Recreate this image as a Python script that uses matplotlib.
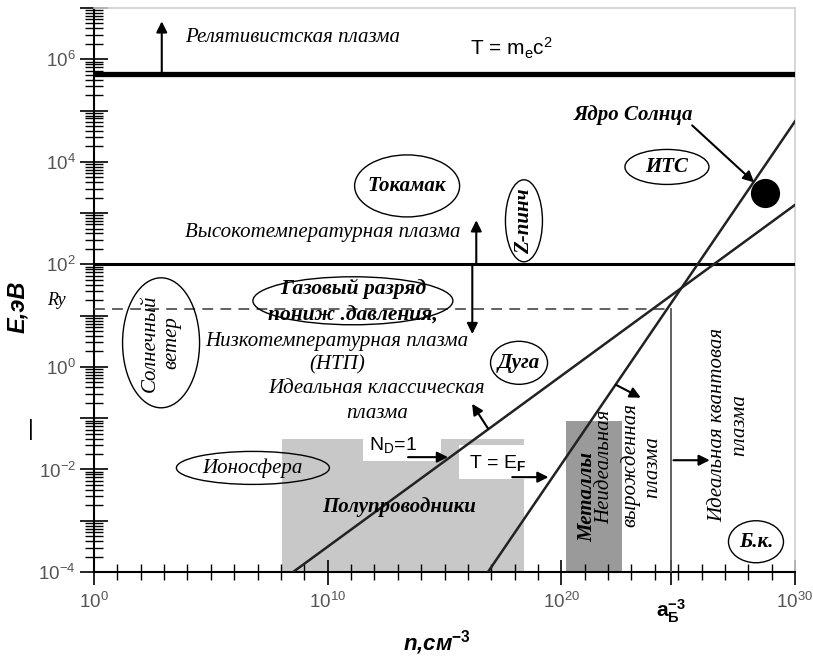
import numpy as np
import matplotlib
matplotlib.use('Agg')
import matplotlib.pyplot as plt
from matplotlib.patches import Ellipse, Rectangle
from matplotlib.transforms import ScaledTranslation
from matplotlib.ticker import FixedLocator, LogLocator, FuncFormatter, NullFormatter

plt.rcParams['font.family'] = ['Liberation Sans', 'DejaVu Sans']
plt.rcParams['mathtext.fontset'] = 'custom'
plt.rcParams['mathtext.rm'] = 'Liberation Sans'
plt.rcParams['mathtext.it'] = 'Liberation Sans:italic'
plt.rcParams['mathtext.bf'] = 'Liberation Sans:bold'

# ---------------- data ----------------
x_limits = [1e0, 1e30]
y_limits = [1e-4, 1e7]
E_rel = 5.1e5          # T = m_e c^2, eV
E_high = 1e2           # high / low temperature boundary, eV
E_Ry = 13.6            # Rydberg, eV
n_bohr = 10 ** 24.7    # a_B^-3, cm^-3

nd1_n = [10 ** 8.52, 1e30]     # N_D = 1 line
nd1_E = [1e-4, 10 ** 3.16]
tef_n = [10 ** 16.86, 1e30]    # T = E_F line
tef_E = [1e-4, 10 ** 4.79]

semi_n = [10 ** 8.03, 10 ** 18.4]   # semiconductors region
semi_E = [1e-4, 10 ** -1.41]
metal_n = [10 ** 20.2, 10 ** 22.6]  # metals region
metal_E = [1e-4, 10 ** -1.05]

sun_n = [10 ** 28.72]   # solar core
sun_E = [10 ** 3.39]

x_ticks = [1e0, 1e10, 1e20, n_bohr, 1e30]
x_ticklabels = [r'$10^{0}$', r'$10^{10}$', r'$10^{20}$', '', r'$10^{30}$']
y_major = [10.0 ** k for k in range(-4, 8)]
y_labeled = [-4, -2, 0, 2, 4, 6]

# ---------------- figure ----------------
fig = plt.figure(figsize=(8.13, 6.57), dpi=100)
ax = fig.add_axes([94 / 813, 1 - 572 / 657, 701 / 813, 564 / 657])
ax.set_xscale('log')
ax.set_yscale('log')

L = lambda v: 10.0 ** v

# regions
ax.add_patch(Rectangle((semi_n[0], semi_E[0]), semi_n[1] - semi_n[0], semi_E[1] - semi_E[0],
                       facecolor='#c8c8c8', edgecolor='none', zorder=1))
ax.add_patch(Rectangle((metal_n[0], metal_E[0]), metal_n[1] - metal_n[0], metal_E[1] - metal_E[0],
                       facecolor='#9a9a9a', edgecolor='none', zorder=1))
# white label boxes
ax.add_patch(Rectangle((L(11.51), L(-1.83)), L(14.85) - L(11.51), L(-1.37) - L(-1.83),
                       facecolor='white', edgecolor='none', zorder=2))
ax.add_patch(Rectangle((L(15.62), L(-2.18)), L(18.4) - L(15.62), L(-1.52) - L(-2.18),
                       facecolor='white', edgecolor='none', zorder=2))

# boundary lines
ax.plot(x_limits, [E_rel, E_rel], color='black', lw=3.8, zorder=4, solid_capstyle='butt')
ax.plot(x_limits, [E_high, E_high], color='black', lw=2.2, zorder=4, solid_capstyle='butt')
ax.plot([x_limits[0], n_bohr], [E_Ry, E_Ry], color='#555555', lw=1.3, ls=(0, (6, 4)), zorder=3)
ax.plot([n_bohr, n_bohr], [y_limits[0], E_Ry], color='#555555', lw=1.3, zorder=3)
ax.plot(nd1_n, nd1_E, color='#222222', lw=1.8, zorder=4)
ax.plot(tef_n, tef_E, color='#222222', lw=1.8, zorder=4)
ax.scatter(sun_n, sun_E, s=400, color='black', zorder=5)

# arrows (log n, log E)
arrows = [
    ((2.9, 5.71), (2.9, 6.74)),
    ((16.36, 2.0), (16.36, 2.86)),
    ((16.19, 2.0), (16.19, 0.64)),
    ((16.86, -1.2), (16.18, -0.72)),
    ((22.34, -0.35), (23.4, -0.6)),
    ((13.44, -1.76), (15.15, -1.76)),
    ((17.9, -2.15), (19.45, -2.15)),
    ((24.8, -1.82), (26.35, -1.82)),
    ((25.6, 4.71), (28.25, 3.6)),
]
for (x0, y0), (x1, y1) in arrows:
    ax.annotate('', xy=(L(x1), L(y1)), xytext=(L(x0), L(y0)),
                arrowprops=dict(arrowstyle='-|>', color='black', lw=1.5,
                                mutation_scale=16, shrinkA=0, shrinkB=0),
                zorder=6)

# ellipses (center in log data, size in px)
ellipses = [
    (13.4, 3.53, 105, 62),
    (18.4, 2.85, 37, 82),
    (24.52, 3.9, 84, 35),
    (11.08, 1.29, 200, 48),
    (2.87, 0.47, 77, 130),
    (18.19, 0.08, 57, 43),
    (6.8, -1.97, 153, 33),
    (28.33, -3.41, 55, 42),
]
for cx, cy, w, h in ellipses:
    tr = fig.dpi_scale_trans + ScaledTranslation(L(cx), L(cy), ax.transData)
    e = Ellipse((0, 0), w / 100, h / 100, transform=tr, fill=False,
                edgecolor='black', lw=1.0, zorder=6)
    ax.add_artist(e)

serif = ['Liberation Serif', 'DejaVu Serif']
def stext(x, y, s, size=15, bold=False, rot=0, ha='center', va='center', ls=1.2):
    ax.text(L(x), L(y), s, family=serif, style='italic',
            fontweight='bold' if bold else 'normal', fontsize=size,
            rotation=rot, ha=ha, va=va, zorder=7, multialignment='center',
            linespacing=ls)

stext(3.89, 6.43, 'Релятивистская плазма', ha='left')
stext(3.89, 2.63, 'Высокотемпературная плазма', ha='left')
stext(10.4, 0.49, 'Низкотемпературная плазма')
stext(10.4, 0.04, '(НТП)')
stext(12.1, -0.43, 'Идеальная классическая')
stext(12.1, -0.9, 'плазма')
stext(23.07, 4.91, 'Ядро Солнца', bold=True)
stext(13.4, 3.53, 'Токамак', bold=True)
stext(18.4, 2.85, 'Z-пинч', bold=True, rot=90)
stext(24.52, 3.9, 'ИТС', bold=True)
stext(11.08, 1.27, 'Газовый разряд\nпониж .давления,', bold=True, size=15.5, ls=1.45)
stext(2.87, 0.47, 'Солнечный\nветер', rot=90)
stext(18.19, 0.08, 'Дуга', bold=True)
stext(6.8, -1.97, 'Ионосфера')
stext(28.33, -3.41, 'Б.к.', bold=True)
stext(13.05, -2.73, 'Полупроводники', bold=True)
stext(21.1, -2.53, 'Металлы', bold=True, rot=90)
stext(21.87, -1.95, 'Неидеальная', rot=90)
stext(22.94, -1.91, 'вырожденная', rot=90)
stext(23.92, -1.95, 'плазма', rot=90)
stext(26.7, -1.13, 'Идеальная квантовая', rot=90)
stext(27.65, -1.13, 'плазма', rot=90)

ax.text(L(17.85), L(6.21), r'T = m$_\mathrm{e}$c$^\mathrm{2}$', fontsize=15,
        ha='center', va='center', zorder=7)
ax.text(L(12.8), L(-1.52), r'N$_\mathrm{D}$=1', fontsize=14,
        ha='center', va='center', zorder=7)
ax.text(L(17.29), L(-1.87), r'T = E$_\mathbf{F}$', fontsize=14,
        ha='center', va='center', zorder=7)

# outside texts
ax.text(-0.053, L(1.3), 'Ry', transform=ax.get_yaxis_transform(), family=serif,
        style='italic', fontsize=13, ha='center', va='center', clip_on=False)
ax.text(-0.09, L(-1.23), '|', transform=ax.get_yaxis_transform(), fontsize=16,
        ha='center', va='center', clip_on=False)
ax.text(n_bohr, -0.045, r'$\mathbf{a}_{\mathbf{Б}}^{\mathbf{-3}}$', transform=ax.get_xaxis_transform(),
        fontsize=15, ha='center', va='top', clip_on=False)

# axes
ax.set_xlim(x_limits)
ax.set_ylim(y_limits)
ax.set_xticks(x_ticks)
ax.set_xticklabels(x_ticklabels)
ax.xaxis.set_minor_locator(FixedLocator([10.0 ** k for k in range(0, 31)]))
ax.xaxis.set_minor_formatter(NullFormatter())
ax.yaxis.set_major_locator(FixedLocator(y_major))
ax.yaxis.set_major_formatter(FuncFormatter(
    lambda v, p: r'$10^{%d}$' % round(np.log10(v)) if round(np.log10(v)) in y_labeled else ''))
ax.yaxis.set_minor_locator(LogLocator(base=10, subs=np.arange(2, 10), numticks=100))
ax.yaxis.set_minor_formatter(NullFormatter())

ax.tick_params(axis='both', which='both', direction='inout', color='black',
               labelcolor='#555555', labelsize=13.5)
ax.tick_params(axis='y', which='major', length=20, width=1.2, pad=3)
ax.tick_params(axis='y', which='minor', length=13, width=1.0)
ax.tick_params(axis='x', which='major', length=18, width=1.2, pad=5)
ax.tick_params(axis='x', which='minor', length=12, width=1.0)

for s in ['top', 'right']:
    ax.spines[s].set_color('#cfcfcf')
    ax.spines[s].set_linewidth(1.2)
for s in ['left', 'bottom']:
    ax.spines[s].set_color('black')
    ax.spines[s].set_linewidth(1.5)

ax.set_ylabel('E,эВ', fontsize=17, fontweight='bold', style='italic')
ax.yaxis.label.set_va('center')
ax.yaxis.set_label_coords(-0.109, 0.47)
ax.set_xlabel(r'n,см$^{\mathbf{-3}}$', fontsize=16, fontweight='bold', style='italic')
ax.xaxis.set_label_coords(0.49, -0.125)
ax.xaxis.label.set_va('center')

fig.savefig('out.png', dpi=100)
